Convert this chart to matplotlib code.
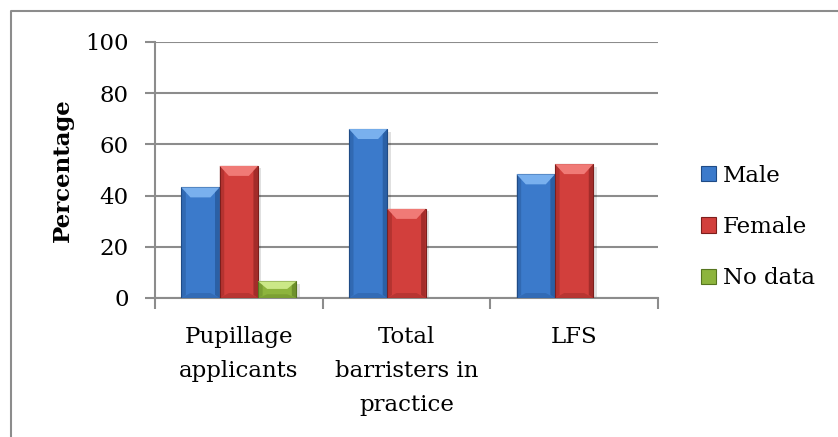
import numpy as np
import matplotlib
matplotlib.use('Agg')
import matplotlib.pyplot as plt
from matplotlib.patches import Polygon
from matplotlib.lines import Line2D

# Data
categories = ['Pupillage\napplicants', 'Total\nbarristers in\npractice', 'LFS']
series_names = ['Male', 'Female', 'No data']
male = [43.2, 66.0, 48.3]
female = [51.6, 34.8, 52.3]
no_data = [6.5, np.nan, np.nan]
y_ticks = [0, 20, 40, 60, 80, 100]

# Styling: (main, light top, dark side/bottom)
palette = {
    'Male': ('#3b7acb', '#79b0ee', '#1f4b86'),
    'Female': ('#d23f3c', '#f07a76', '#7d1e1c'),
    'No data': ('#8db43d', '#cbe887', '#56751f'),
}
GRID = '#8c8c8c'
FONT = 'DejaVu Serif'
FS = 16.5

plt.rcParams['font.family'] = FONT

fig = plt.figure(figsize=(8.38, 4.37), dpi=100)
ax = fig.add_axes([155 / 838, 1 - 298 / 437, 503 / 838, 256 / 437])

x = np.arange(len(categories))
width = 0.229
bev_y = 3.9
bev_x = 0.055


def bevel_bar(ax, xc, h, colors):
    main, light, dark = colors
    bars = ax.bar(xc, h, width, color=main, edgecolor=dark, linewidth=0.8, zorder=3)
    for b in bars:
        hh = b.get_height()
        if not np.isfinite(hh) or hh <= 0:
            continue
        x0, x1 = b.get_x(), b.get_x() + b.get_width()
        by = min(bev_y, hh / 2.2)
        bx = min(bev_x, (x1 - x0) / 2.5)
        # top facet
        ax.add_patch(Polygon([(x0, hh), (x1, hh), (x1 - bx, hh - by), (x0 + bx, hh - by)],
                             closed=True, facecolor=light, edgecolor='none', zorder=4))
        # bottom facet
        ax.add_patch(Polygon([(x0, 0), (x1, 0), (x1 - bx, by * 0.5), (x0 + bx, by * 0.5)],
                             closed=True, facecolor=dark, alpha=0.3, edgecolor='none', zorder=4))
        # side facets
        ax.add_patch(Polygon([(x0, 0), (x0 + bx * 0.5, by * 0.3), (x0 + bx * 0.5, hh - by * 0.5), (x0, hh)],
                             closed=True, facecolor=dark, alpha=0.35, edgecolor='none', zorder=4))
        ax.add_patch(Polygon([(x1, 0), (x1 - bx * 0.5, by * 0.3), (x1 - bx * 0.5, hh - by * 0.5), (x1, hh)],
                             closed=True, facecolor=dark, alpha=0.55, edgecolor='none', zorder=4))
        # soft shadow under bar
        ax.add_patch(Polygon([(x0 + 0.01, -0.6), (x1 + 0.02, -0.6), (x1 + 0.02, hh - 1), (x1, hh - 1), (x1, 0), (x0 + 0.01, 0)],
                             closed=True, facecolor='#000000', alpha=0.12, edgecolor='none', zorder=2))
    return bars


for i, (name, vals) in enumerate(zip(series_names, [male, female, no_data])):
    bevel_bar(ax, x + (i - 1) * width, vals, palette[name])

ax.set_xlim(-0.5, len(categories) - 0.5)
ax.set_ylim(0, 100)
ax.set_yticks(y_ticks)
ax.set_yticklabels([str(t) for t in y_ticks], fontsize=FS)
ax.yaxis.grid(True, color=GRID, linewidth=1.5, zorder=0)
ax.set_axisbelow(True)

ax.set_xticks(x)
ax.set_xticklabels(categories, fontsize=FS, linespacing=1.7)
ax.tick_params(axis='x', length=0, pad=20)
ax.tick_params(axis='y', length=7, width=1.5, color=GRID, pad=12)
ax.set_xticks(np.arange(len(categories) + 1) - 0.5, minor=True)
ax.tick_params(axis='x', which='minor', length=8, width=1.5, color=GRID, direction='out')

for s in ['top', 'right']:
    ax.spines[s].set_visible(False)
for s in ['left', 'bottom']:
    ax.spines[s].set_color(GRID)
    ax.spines[s].set_linewidth(1.5)

ax.set_ylabel('Percentage', fontsize=FS, fontweight='bold', labelpad=8)

handles = [Polygon([[0, 0]], closed=True, facecolor=palette[n][0], edgecolor=palette[n][2], linewidth=0.8)
           for n in series_names]
fig.legend(handles, series_names, loc='center left', bbox_to_anchor=(690 / 838, 1 - 227 / 437),
           frameon=False, fontsize=FS, handlelength=0.65, handleheight=0.65,
           handletextpad=0.3, labelspacing=1.28, borderpad=0)

# outer chart border (top and left edges visible)
fig.add_artist(Line2D([11 / 838, 11 / 838, 1.0], [0.0, 1 - 11 / 437, 1 - 11 / 437],
                      transform=fig.transFigure, color=GRID, linewidth=1.5))

fig.savefig('out.png', dpi=100)
